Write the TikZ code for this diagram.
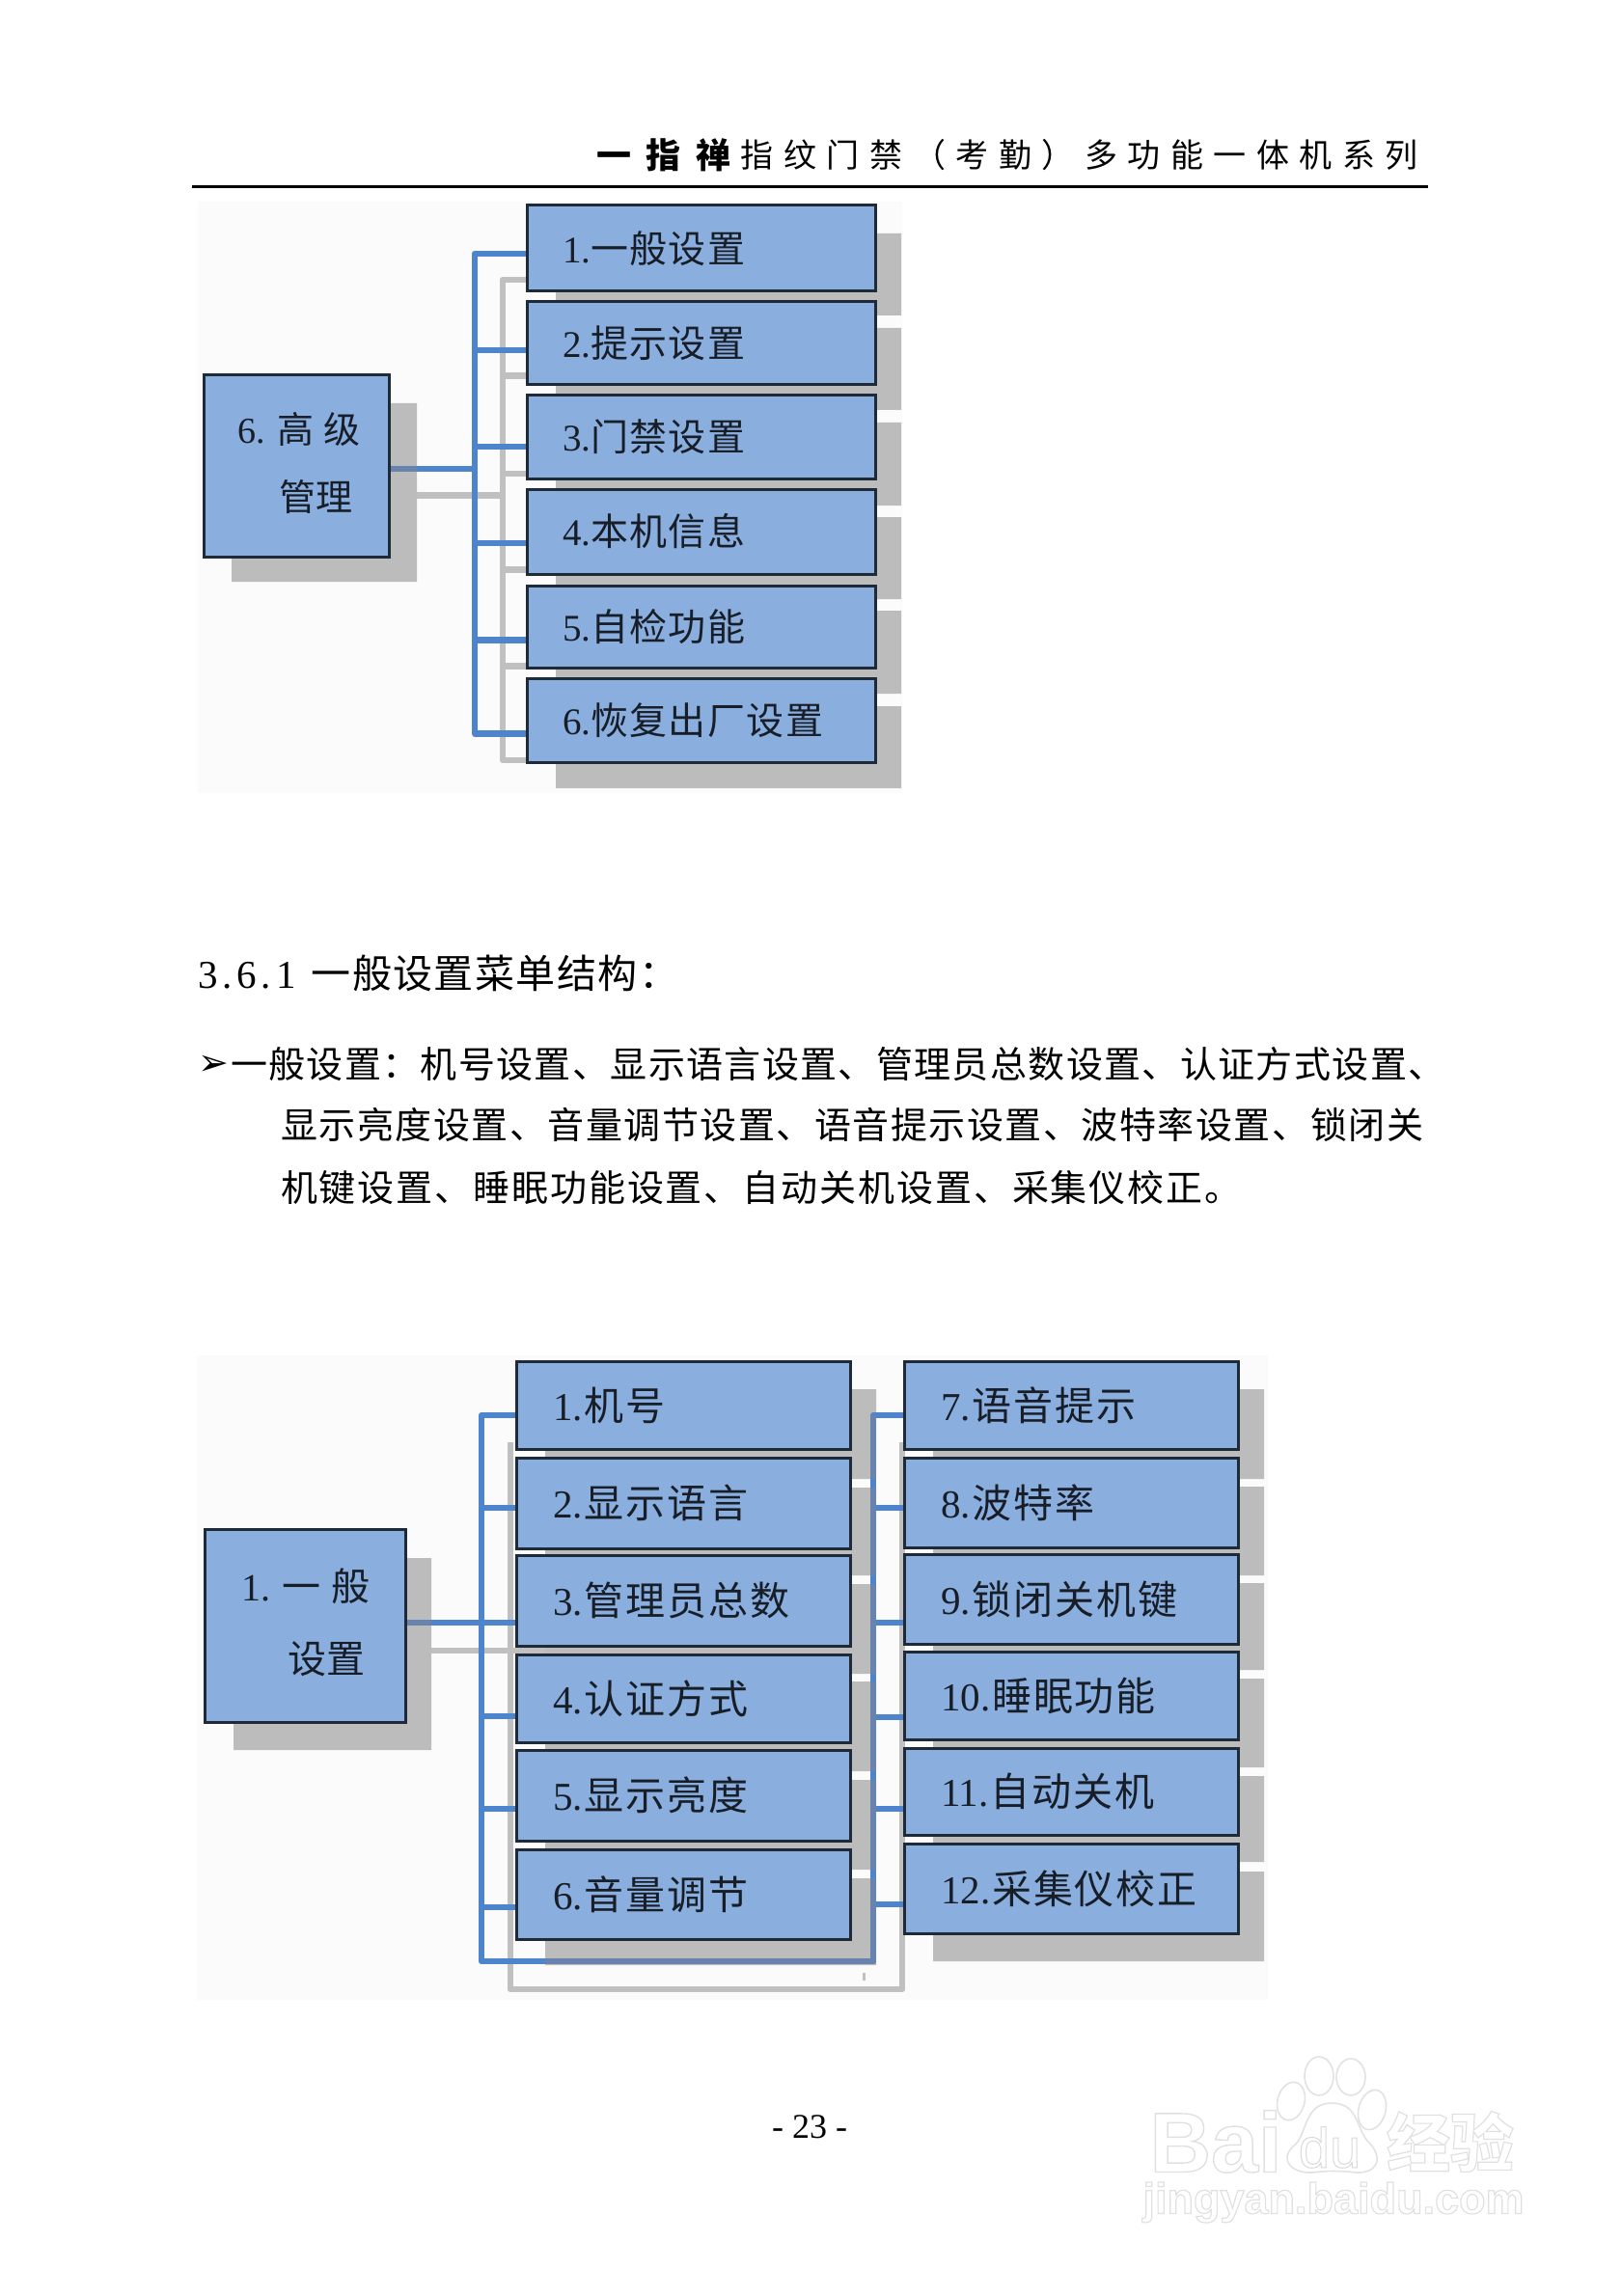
\documentclass[tikz,border=0pt]{standalone}
\usepackage{fontspec}
\setmainfont{Liberation Serif}
\newfontfamily\cjk{Noto Sans CJK SC}
\newfontfamily\wmf{Liberation Sans}
\newfontfamily\symf{DejaVu Sans}
\pgfdeclarelayer{back}
\pgfsetlayers{back,main}
\definecolor{boxfill}{RGB}{138,174,222}
\definecolor{boxline}{RGB}{30,42,56}
\definecolor{bluel}{RGB}{78,132,204}
\definecolor{bluedk}{RGB}{104,132,174}
\definecolor{grayl}{RGB}{192,192,192}
\definecolor{shad}{RGB}{188,188,188}
\definecolor{paper}{RGB}{251,251,251}
\definecolor{ink}{RGB}{24,30,40}
\definecolor{wm}{RGB}{226,226,226}
\tikzset{
  x=0.5pt,y=-0.5pt,
  boxst/.style={draw=boxline,line width=1.5pt,fill=boxfill,inner ysep=0pt,outer sep=0pt,text=ink,align=left},
  bl/.style={draw=bluel,line width=3.3pt,line join=round},
  gl/.style={draw=grayl,line width=3.3pt,line join=round},
  txt/.style={inner sep=0pt,outer sep=0pt,anchor=west,text=black},
  wmline/.style={draw=wm,line width=0.8pt,fill=white},
}
\newcommand{\bx}[7]{%
  \pgfmathsetmacro\bw{(#4-#2)/2}\pgfmathsetmacro\bh{(#5-#3)/2}\pgfmathsetmacro\tw{\bw-2*#6}%
  \node[boxst,inner xsep=#6 pt,minimum width=\bw pt,minimum height=\bh pt,text width=\tw pt]
    (#1) at ({(#2+#4)/2},{(#3+#5)/2}) {#7};}
\newcommand{\la}[2]{\fontsize{19.5}{23}\selectfont #1{\cjk\addfontfeature{LetterSpace=3.5} #2}}
\newcommand{\lb}[2]{\fontsize{20.5}{24}\selectfont #1\hspace{1pt}{\cjk\addfontfeature{LetterSpace=4.5} #2}}
\newcommand{\shadowsA}{(240,418) rectangle (432,603)
  (576,242) rectangle (934,327) (576,340) rectangle (934,425) (576,438) rectangle (934,524)
  (576,536) rectangle (934,621) (576,633) rectangle (934,719) (576,732) rectangle (934,817)}
\newcommand{\shadowsB}{(242,1615) rectangle (447,1814)
  (565,1440) rectangle (908,1533) (565,1542) rectangle (908,1633) (565,1642) rectangle (908,1735)
  (565,1743) rectangle (908,1836) (565,1845) rectangle (908,1938) (565,1947) rectangle (908,2037)
  (967,1440) rectangle (1310,1533) (967,1541) rectangle (1310,1633) (967,1641) rectangle (1310,1731)
  (967,1740) rectangle (1310,1832) (967,1841) rectangle (1310,1930) (967,1940) rectangle (1310,2033)}
\begin{document}
\begin{tikzpicture}
\path[use as bounding box] (0,0) rectangle (1680,2380);

% header
\node[txt] (hb) at (618,161) {\fontsize{18}{20}\selectfont\cjk\bfseries\addfontfeature{LetterSpace=44} 一指禅};
\node[txt,anchor=east] (hr) at (1470,161) {\fontsize{17}{20}\selectfont\cjk\addfontfeature{LetterSpace=31} 指纹门禁（考勤）多功能一体机系列};
\coordinate (hl1) at (199,193.5);
\coordinate (hl2) at (1480,193.5);
\draw[black,line width=1.5pt] (hl1) -- (hl2);

% diagram 1 boxes
\bx{root}{211}{389}{403}{577}{17.5}{\mbox{\fontsize{19}{23}\selectfont 6.\hspace{6.5pt}{\cjk\addfontfeature{LetterSpace=25} 高级}}\\[16.5pt]\mbox{\hspace*{21.5pt}\fontsize{19}{23}\selectfont{\cjk\addfontfeature{LetterSpace=2} 管理}\rule[-4.5pt]{0pt}{4.5pt}}}
\bx{a1}{546}{213}{907}{302}{18.5}{\la{1.}{一般设置}}
\bx{a2}{546}{313}{907}{399}{18.5}{\la{2.}{提示设置}}
\bx{a3}{546}{410}{907}{496}{18.5}{\la{3.}{门禁设置}}
\bx{a4}{546}{507}{907}{595}{18.5}{\la{4.}{本机信息}}
\bx{a5}{546}{607}{907}{692}{18.5}{\la{5.}{自检功能}}
\bx{a6}{546}{703}{907}{790}{18.5}{\la{6.}{恢复出厂设置}}

% diagram 2 boxes
\bx{rootb}{212}{1585}{420}{1785}{19}{\mbox{\fontsize{20}{24}\selectfont 1.\hspace{6pt}{\cjk\addfontfeature{LetterSpace=30} 一般}}\\[18.5pt]\mbox{\hspace*{24pt}\fontsize{20}{24}\selectfont{\cjk\addfontfeature{LetterSpace=2} 设置}\rule[-4.5pt]{0pt}{4.5pt}}}
\bx{b1}{535}{1411}{881}{1502}{19}{\lb{1.}{机号}}
\bx{b2}{535}{1511}{881}{1605}{19}{\lb{2.}{显示语言}}
\bx{b3}{535}{1612}{881}{1706}{19}{\lb{3.}{管理员总数}}
\bx{b4}{535}{1715}{881}{1806}{19}{\lb{4.}{认证方式}}
\bx{b5}{535}{1814}{881}{1908}{19}{\lb{5.}{显示亮度}}
\bx{b6}{535}{1917}{881}{2010}{19}{\lb{6.}{音量调节}}
\bx{c1}{937}{1411}{1283}{1502}{19}{\lb{7.}{语音提示}}
\bx{c2}{937}{1511}{1283}{1604}{19}{\lb{8.}{波特率}}
\bx{c3}{937}{1611}{1283}{1704}{19}{\lb{9.}{锁闭关机键}}
\bx{c4}{937}{1712}{1283}{1803}{19}{\lb{10.}{睡眠功能}}
\bx{c5}{937}{1812}{1283}{1902}{19}{\lb{11.}{自动关机}}
\bx{c6}{937}{1911}{1283}{2004}{19}{\lb{12.}{采集仪校正}}

% text
\node[txt] (sec) at (205,1009) {\fontsize{20.5}{24}\selectfont{\addfontfeature{LetterSpace=12}3.6.1}\hspace{8pt}{\cjk\addfontfeature{LetterSpace=3.5} 一般设置菜单结构：}};
\node[txt] (bul) at (205,1104) {\fontsize{19}{22}\selectfont\symf\bfseries ➢};
\node[txt] (l1) at (239,1103) {\fontsize{19}{24}\selectfont\cjk\addfontfeature{LetterSpace=3.6} 一般设置：机号设置、显示语言设置、管理员总数设置、认证方式设置、};
\node[txt] (l2) at (291,1166) {\fontsize{19}{24}\selectfont\cjk\addfontfeature{LetterSpace=4} 显示亮度设置、音量调节设置、语音提示设置、波特率设置、锁闭关};
\node[txt] (l3) at (291,1231) {\fontsize{19}{24}\selectfont\cjk\addfontfeature{LetterSpace=5} 机键设置、睡眠功能设置、自动关机设置、采集仪校正。};
\node[txt,anchor=center] (pg) at (839,2205) {\fontsize{18}{20}\selectfont - 23 -};

% watermark
\node[txt,anchor=center] (wb) at (1260,2220) {\special{pdf:code 1 Tr 0.7 w 0.88 G}\fontsize{44}{46}\selectfont\wmf\bfseries Bai\special{pdf:code 0 Tr}};
\node[txt,anchor=center] (wj) at (1382,2283) {\special{pdf:code 1 Tr 0.6 w 0.88 G}\fontsize{22.5}{24}\selectfont\wmf\bfseries jingyan.baidu.com\special{pdf:code 0 Tr}};
\node[txt,anchor=center] (wc) at (1503,2220) {\special{pdf:code 1 Tr 0.6 w 0.88 G}\fontsize{33}{36}\selectfont\cjk\bfseries 经验\special{pdf:code 0 Tr}};
\draw[wmline,rotate around={-15:(1338,2178)}] (1338,2178) ellipse [x radius=14,y radius=20];
\draw[wmline] (1367,2152) ellipse [x radius=15,y radius=20];
\draw[wmline] (1400,2153) ellipse [x radius=15,y radius=19];
\draw[wmline,rotate around={-15:(1422,2187)}] (1422,2187) ellipse [x radius=14,y radius=21];
\draw[wmline] (1380,2180) .. controls (1350,2180) and (1355,2215) .. (1340,2225) .. controls (1325,2240) and (1340,2253) .. (1360,2252) .. controls (1375,2250) and (1390,2250) .. (1405,2252) .. controls (1425,2253) and (1435,2240) .. (1420,2222) .. controls (1405,2210) and (1410,2180) .. (1380,2180) -- cycle;
\node[txt,anchor=center] (wd) at (1378,2226) {\special{pdf:code 1 Tr 0.5 w 0.85 G}\fontsize{29}{30}\selectfont\wmf du\special{pdf:code 0 Tr}};

\begin{pgfonlayer}{back}
% paper tint behind the two figures
\fill[paper] (205,209) rectangle (935,822);
\fill[paper] (204,1405) rectangle (1314,2073);

% diagram 1 connectors and shadows
\coordinate (g0) at (521,513.5);
\coordinate (g1) at (521,290);
\coordinate (g2) at (521,389.5);
\coordinate (g3) at (521,491);
\coordinate (g4) at (521,590.5);
\coordinate (g5) at (521,690.5);
\coordinate (g6) at (521,788);
\draw[gl] (g0 -| root.east) -- (g0);
\draw[gl] (g1 -| a1.west) -- (g1) -- (g6) -- (g6 -| a6.west);
\draw[gl] (g2) -- (g2 -| a2.west);
\draw[gl] (g3) -- (g3 -| a3.west);
\draw[gl] (g4) -- (g4 -| a4.west);
\draw[gl] (g5) -- (g5 -| a5.west);
\fill[shad] \shadowsA;
\coordinate (t0) at (492,486);
\coordinate (t1) at (492,263);
\coordinate (t2) at (492,363);
\coordinate (t3) at (492,463);
\coordinate (t4) at (492,563);
\coordinate (t5) at (492,663.5);
\coordinate (t6) at (492,760.5);
\draw[bl] (t0 -| root.east) -- (t0);
\draw[bl] (t1 -| a1.west) -- (t1) -- (t6) -- (t6 -| a6.west);
\draw[bl] (t2) -- (t2 -| a2.west);
\draw[bl] (t3) -- (t3 -| a3.west);
\draw[bl] (t4) -- (t4 -| a4.west);
\draw[bl] (t5) -- (t5 -| a5.west);
\begin{scope}
\clip \shadowsA;
\draw[bl,draw=bluedk] (t0 -| root.east) -- (t0);
\end{scope}

% diagram 2 connectors and shadows
\coordinate (p0) at (529,1711);
\coordinate (p1) at (529,1495);
\coordinate (p2) at (529,2062);
\coordinate (q1) at (935,2062);
\coordinate (q2) at (935,1495);
\coordinate (k1) at (895,2045);
\coordinate (k2) at (895,2053);
\draw[gl] (p0 -| rootb.east) -- (p0 -| b3.west) -- ++(30,0);
\draw[gl] (p1) -- (p2) -- (q1) -- (q2);
\draw[grayl,line width=1.5pt] (k1) -- (k2);
\fill[shad] \shadowsB;
\coordinate (u0) at (499,1682);
\coordinate (u1) at (499,1467);
\coordinate (u2) at (499,1563);
\coordinate (u4) at (499,1779);
\coordinate (u5) at (499,1875);
\coordinate (u6) at (499,1977);
\coordinate (u7) at (499,2033);
\coordinate (v1) at (905,1467);
\coordinate (v2) at (905,1563);
\coordinate (v3) at (905,1682);
\coordinate (v4) at (905,1780);
\coordinate (v5) at (905,1875);
\coordinate (v6) at (905,1974);
\coordinate (v7) at (905,2033);
\draw[bl] (u1 -| b1.west) -- (u1) -- (u7) -- (v7) -- (v1) -- (v1 -| c1.west);
\draw[bl] (u0 -| rootb.east) -- (u0 -| b3.west);
\draw[bl] (u2) -- (u2 -| b2.west);
\draw[bl] (u4) -- (u4 -| b4.west);
\draw[bl] (u5) -- (u5 -| b5.west);
\draw[bl] (u6) -- (u6 -| b6.west);
\draw[bl] (v2) -- (v2 -| c2.west);
\draw[bl] (v3) -- (v3 -| c3.west);
\draw[bl] (v4) -- (v4 -| c4.west);
\draw[bl] (v5) -- (v5 -| c5.west);
\draw[bl] (v6) -- (v6 -| c6.west);
\begin{scope}
\clip \shadowsB;
\draw[bl,draw=bluedk] (u7) -- (v7) -- (v1);
\draw[bl,draw=bluedk] (u0 -| rootb.east) -- (u0 -| b3.west);
\end{scope}
\end{pgfonlayer}
\end{tikzpicture}
\end{document}
